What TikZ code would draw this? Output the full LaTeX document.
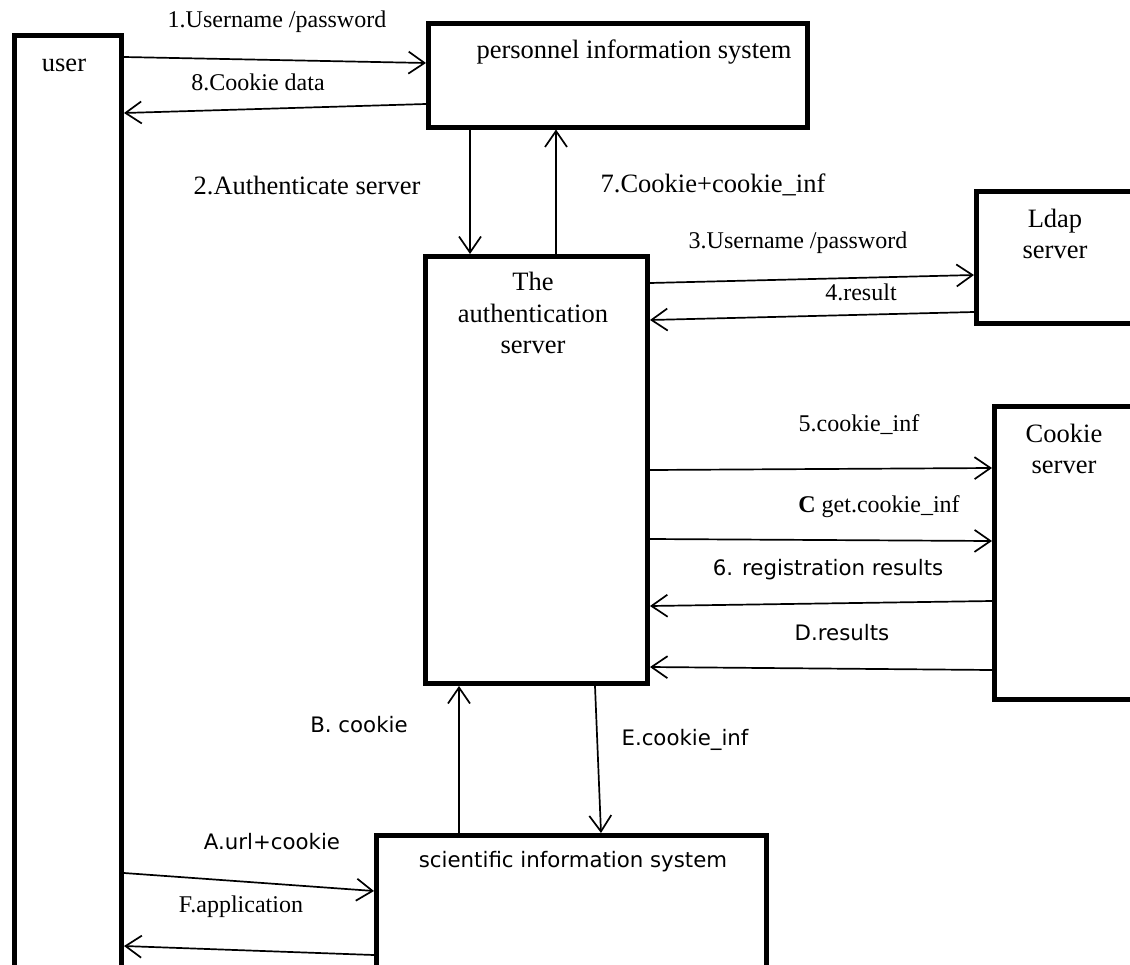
\documentclass[tikz,border=0pt]{standalone}
\usepackage{fontspec}
\setmainfont{Liberation Serif}
\newfontfamily\sansf{DejaVu Sans}
\usetikzlibrary{arrows.meta}
\tikzset{
  box/.style={draw, line width=5pt, outer sep=2.5pt, inner sep=0pt, anchor=north west, fill=none},
  arr/.style={line width=1.7pt, -{Straight Barb[length=16pt,width=22pt,line width=1.7pt]}},
  lab/.style={inner sep=0pt, font=\fontsize{24}{28}\selectfont},
  biglab/.style={inner sep=0pt, font=\fontsize{26.5}{31.5}\selectfont, align=center},
  slab/.style={inner sep=0pt, font=\sansf\fontsize{21.3}{26}\selectfont},
}
\begin{document}
\begin{tikzpicture}[x=1pt,y=-1pt]
\useasboundingbox (0,0) rectangle (1130,964);
\clip (0,0) rectangle (1130,964);
% boxes
\node[box, minimum width=107pt, minimum height=1000pt] (user) at (12,33) {};
\node[box, minimum width=379pt, minimum height=103.5pt] (pers) at (426,21) {};
\node[box, minimum width=222pt, minimum height=427pt] (auth) at (423,254) {};
\node[box, minimum width=200pt, minimum height=132pt] (ldap) at (974,189) {};
\node[box, minimum width=200pt, minimum height=293pt] (cookie) at (992,404) {};
\node[box, minimum width=390pt, minimum height=300pt] (sci) at (374,833) {};
% box texts
\node[biglab] (usertxt) at (64,65) {user};
\node[biglab] (perstxt) at (634,52) {personnel information system};
\node[biglab] (authtxt) at (533,313) {The\\authentication\\server};
\node[biglab] (ldaptxt) at (1055,234) {Ldap\\server};
\node[biglab] (cookietxt) at (1064,449) {Cookie\\server};
\node[slab] (scitxt) at (573,862) {scientific information system};
% connectors
\draw[arr] (user.east |- 0,57) -- (pers.west |- 0,63);
\draw[arr] (pers.west |- 0,104) -- (user.east |- 0,113);
\draw[arr] (pers.south -| 470,0) -- (auth.north -| 470,0);
\draw[arr] (auth.north -| 556,0) -- (pers.south -| 556,0);
\draw[arr] (auth.east |- 0,283) -- (ldap.west |- 0,275);
\draw[arr] (ldap.west |- 0,312) -- (auth.east |- 0,320);
\draw[arr] (auth.east |- 0,470) -- (cookie.west |- 0,468);
\draw[arr] (auth.east |- 0,539) -- (cookie.west |- 0,541);
\draw[arr] (cookie.west |- 0,601) -- (auth.east |- 0,606);
\draw[arr] (cookie.west |- 0,670) -- (auth.east |- 0,667);
\draw[arr] (sci.north -| 459,0) -- (auth.south -| 459,0);
\draw[arr] (auth.south -| 595,0) -- (sci.north -| 601,0);
\draw[arr] (user.east |- 0,873) -- (sci.west |- 0,891);
\draw[arr] (sci.west |- 0,955) -- (user.east |- 0,946);
% labels
\node[lab] (l1) at (277,22) {1.Username /password};
\node[lab] (l8) at (258,82) {8.Cookie data};
\node[biglab] (l2) at (307,185) {2.Authenticate server};
\node[biglab] (l7) at (713,185) {7.Cookie+cookie\_inf};
\node[lab] (l3) at (798,243) {3.Username /password};
\node[lab] (l4) at (861,292) {4.result};
\node[lab] (l5) at (859,425) {5.cookie\_inf};
\node[lab] (lC) at (879,507) {\textbf{C} get.cookie\_inf};
\node[slab] (l6) at (828,570) {6. registration results};
\node[slab] (lD) at (842,633) {D.results};
\node[slab] (lB) at (359,725) {B. cookie};
\node[slab] (lE) at (685,740) {E.cookie\_inf};
\node[slab] (lA) at (272,842) {A.url+cookie};
\node[lab] (lF) at (241,907) {F.application};
\end{tikzpicture}
\end{document}
